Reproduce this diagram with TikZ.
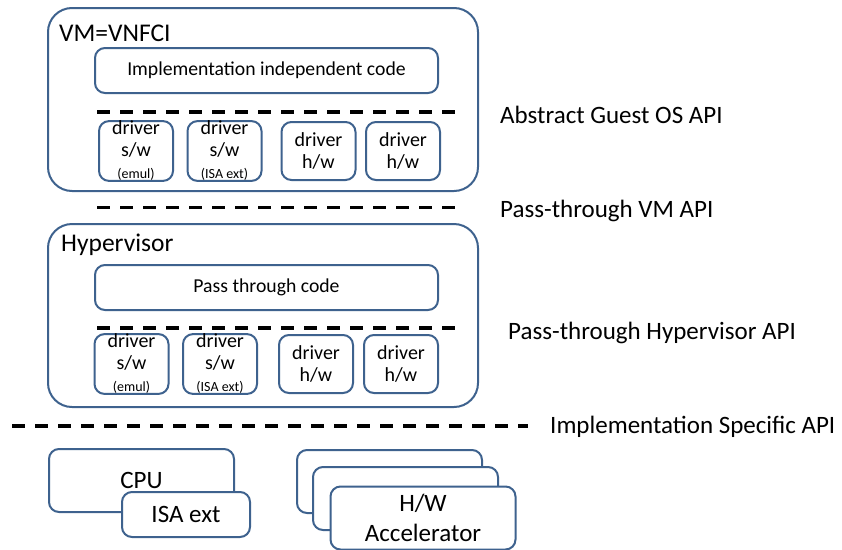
\documentclass[tikz,border=0pt]{standalone}
\usepackage{fontspec}
\setmainfont{Carlito}
\usepackage{xcolor}
\definecolor{colorBox}{RGB}{62,98,142}
\usetikzlibrary{positioning}
\tikzset{
  layer/.style={draw=colorBox, line width=2pt, rounded corners=24pt, fill=white,
    minimum width=430pt, minimum height=183pt, inner sep=0pt},
  code/.style={draw=colorBox, line width=2pt, rounded corners=10pt, fill=white,
    minimum width=343pt, minimum height=45pt, inner sep=0pt, font=\fontsize{19.7}{22}\selectfont},
  driver/.style={draw=colorBox, line width=2pt, rounded corners=10pt, fill=white,
    minimum width=74pt, minimum height=58pt, inner sep=0pt, align=center,
    font=\fontsize{20}{22}\selectfont},
  hwbox/.style={draw=colorBox, line width=2pt, rounded corners=10pt, fill=white,
    minimum width=185pt, minimum height=63pt, inner sep=0pt, align=center,
    font=\fontsize{25}{30}\selectfont},
  api/.style={line width=3.5pt, dash pattern=on 13pt off 10pt},
  apitext/.style={anchor=west, inner sep=0pt, font=\fontsize{25}{28}\selectfont},
  title/.style={anchor=west, inner sep=0pt, font=\fontsize{25.5}{28}\selectfont}
}
\newcommand{\drvnote}[1]{{\fontsize{14}{14}\selectfont #1}}
\begin{document}
\begin{tikzpicture}[x=1pt, y=-1pt]
\useasboundingbox (0,0) rectangle (842,549);
\node[layer] (vm) at (263,99.5) {};
\node[title] (vmname) at (59,33) {VM=VNFCI};
\node[code] (impl) at (266.5,70.5) {Implementation independent code};
\node[driver] (vmemul) at (136,151) {driver\\s/w\\\drvnote{(emul)}};
\node[driver] (vmisa) at (224.5,151) {driver\\s/w\\\drvnote{(ISA ext)}};
\node[driver] (vmhwa) at (318.5,151) {driver\\h/w};
\node[driver] (vmhwb) at (403,151) {driver\\h/w};
\coordinate (guestL) at (97,112);
\coordinate (guestR) at (463,112);
\draw[api] (guestL) -- (guestR);
\node[apitext] (guest) at (500,115) {Abstract Guest OS API};
\coordinate (vmapiL) at (97,207.5);
\coordinate (vmapiR) at (465,207.5);
\draw[api] (vmapiL) -- (vmapiR);
\node[apitext] (vmapi) at (500,211) {Pass-through VM API};
\node[layer] (hyp) at (263,315.5) {};
\node[title] (hypname) at (61,245) {Hypervisor};
\node[code] (pass) at (266.5,287.5) {Pass through code};
\node[driver] (hypemul) at (131.5,364) {driver\\s/w\\\drvnote{(emul)}};
\node[driver] (hypisa) at (220,364) {driver\\s/w\\\drvnote{(ISA ext)}};
\node[driver] (hyphwa) at (316,364) {driver\\h/w};
\node[driver] (hyphwb) at (401,364) {driver\\h/w};
\coordinate (hypapiL) at (97,328);
\coordinate (hypapiR) at (463,328);
\draw[api] (hypapiL) -- (hypapiR);
\node[apitext] (hypapi) at (508,333) {Pass-through Hypervisor API};
\coordinate (implL) at (12,426);
\coordinate (implR) at (528,426);
\draw[api] (implL) -- (implR);
\node[apitext] (implapi) at (550,427) {Implementation Specific API};
\node[hwbox] (cpu) at (141.5,480.5) {CPU};
\node[hwbox, minimum width=128pt, minimum height=45pt] (isa) at (186,514.5) {ISA ext};
\node[hwbox] (accC) at (389.5,481.5) {};
\node[hwbox] (accB) at (405.5,498.5) {};
\node[hwbox] (accA) at (423,518) {H/W\\Accelerator};
\end{tikzpicture}
\end{document}
